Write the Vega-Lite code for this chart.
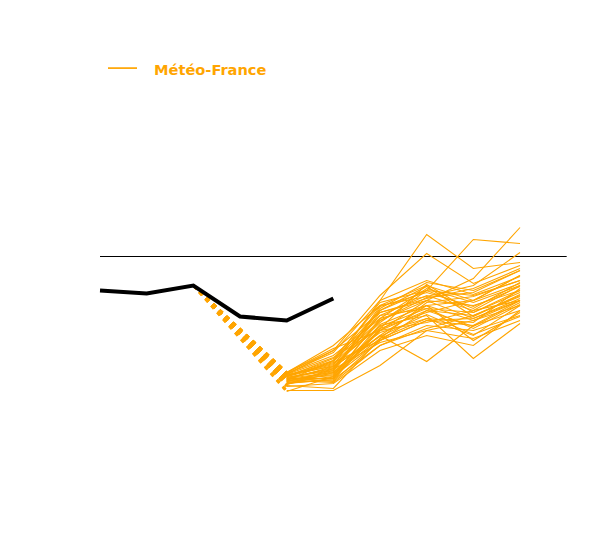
{
  "$schema": "https://vega.github.io/schema/vega-lite/v6.json",
  "width": 600,
  "height": 540,
  "padding": 0,
  "autosize": {"type": "none"},
  "datasets": {
    "obs": [
      {"s": 0, "v": -3.4}, {"s": 1, "v": -3.7}, {"s": 2, "v": -2.9},
      {"s": 3, "v": -6.0}, {"s": 4, "v": -6.4}, {"s": 5, "v": -4.2}
    ],
    "ref": [{"s0": 0, "s1": 10, "v": 0}],
    "links": [
      {"m": 1, "s0": 2, "v0": -2.9, "s1": 4, "v1": -12.0},
      {"m": 2, "s0": 2, "v0": -2.9, "s1": 4, "v1": -12.4},
      {"m": 3, "s0": 2, "v0": -2.9, "s1": 4, "v1": -12.2},
      {"m": 4, "s0": 2, "v0": -2.9, "s1": 4, "v1": -11.8},
      {"m": 5, "s0": 2, "v0": -2.9, "s1": 4, "v1": -12.8},
      {"m": 6, "s0": 2, "v0": -2.9, "s1": 4, "v1": -12.6},
      {"m": 7, "s0": 2, "v0": -2.9, "s1": 4, "v1": -13.4},
      {"m": 8, "s0": 2, "v0": -2.9, "s1": 4, "v1": -11.6},
      {"m": 9, "s0": 2, "v0": -2.9, "s1": 4, "v1": -11.9},
      {"m": 10, "s0": 2, "v0": -2.9, "s1": 4, "v1": -12.1},
      {"m": 11, "s0": 2, "v0": -2.9, "s1": 4, "v1": -12.3},
      {"m": 12, "s0": 2, "v0": -2.9, "s1": 4, "v1": -12.5},
      {"m": 13, "s0": 2, "v0": -2.9, "s1": 4, "v1": -12.7},
      {"m": 14, "s0": 2, "v0": -2.9, "s1": 4, "v1": -11.7},
      {"m": 15, "s0": 2, "v0": -2.9, "s1": 4, "v1": -12.0},
      {"m": 16, "s0": 2, "v0": -2.9, "s1": 4, "v1": -12.2},
      {"m": 17, "s0": 2, "v0": -2.9, "s1": 4, "v1": -12.4},
      {"m": 18, "s0": 2, "v0": -2.9, "s1": 4, "v1": -12.9},
      {"m": 19, "s0": 2, "v0": -2.9, "s1": 4, "v1": -11.6},
      {"m": 20, "s0": 2, "v0": -2.9, "s1": 4, "v1": -11.8},
      {"m": 21, "s0": 2, "v0": -2.9, "s1": 4, "v1": -12.3},
      {"m": 22, "s0": 2, "v0": -2.9, "s1": 4, "v1": -12.0},
      {"m": 23, "s0": 2, "v0": -2.9, "s1": 4, "v1": -12.6},
      {"m": 24, "s0": 2, "v0": -2.9, "s1": 4, "v1": -12.1},
      {"m": 25, "s0": 2, "v0": -2.9, "s1": 4, "v1": -11.9},
      {"m": 26, "s0": 2, "v0": -2.9, "s1": 4, "v1": -12.5},
      {"m": 27, "s0": 2, "v0": -2.9, "s1": 4, "v1": -13.0},
      {"m": 28, "s0": 2, "v0": -2.9, "s1": 4, "v1": -11.7},
      {"m": 29, "s0": 2, "v0": -2.9, "s1": 4, "v1": -12.2},
      {"m": 30, "s0": 2, "v0": -2.9, "s1": 4, "v1": -12.4},
      {"m": 31, "s0": 2, "v0": -2.9, "s1": 4, "v1": -12.0},
      {"m": 32, "s0": 2, "v0": -2.9, "s1": 4, "v1": -12.7},
      {"m": 33, "s0": 2, "v0": -2.9, "s1": 4, "v1": -11.8},
      {"m": 34, "s0": 2, "v0": -2.9, "s1": 4, "v1": -12.1},
      {"m": 35, "s0": 2, "v0": -2.9, "s1": 4, "v1": -12.3},
      {"m": 36, "s0": 2, "v0": -2.9, "s1": 4, "v1": -11.9},
      {"m": 37, "s0": 2, "v0": -2.9, "s1": 4, "v1": -12.5},
      {"m": 38, "s0": 2, "v0": -2.9, "s1": 4, "v1": -12.8},
      {"m": 39, "s0": 2, "v0": -2.9, "s1": 4, "v1": -11.6},
      {"m": 40, "s0": 2, "v0": -2.9, "s1": 4, "v1": -12.2},
      {"m": 41, "s0": 2, "v0": -2.9, "s1": 4, "v1": -13.5}
    ],
    "ens": [
      {"m":1,"s":4,"v":-12.0},{"m":1,"s":5,"v":-10.9},{"m":1,"s":6,"v":-4.4},{"m":1,"s":7,"v":2.2},{"m":1,"s":8,"v":-1.2},{"m":1,"s":9,"v":-0.6},
      {"m":2,"s":4,"v":-12.4},{"m":2,"s":5,"v":-10.4},{"m":2,"s":6,"v":-5.4},{"m":2,"s":7,"v":-3.4},{"m":2,"s":8,"v":1.7},{"m":2,"s":9,"v":1.3},
      {"m":3,"s":4,"v":-12.2},{"m":3,"s":5,"v":-11.6},{"m":3,"s":6,"v":-7.4},{"m":3,"s":7,"v":-4.4},{"m":3,"s":8,"v":-2.2},{"m":3,"s":9,"v":2.9},
      {"m":4,"s":4,"v":-11.8},{"m":4,"s":5,"v":-9.4},{"m":4,"s":6,"v":-3.9},{"m":4,"s":7,"v":0.3},{"m":4,"s":8,"v":-2.7},{"m":4,"s":9,"v":-0.9},
      {"m":5,"s":4,"v":-12.8},{"m":5,"s":5,"v":-11.6},{"m":5,"s":6,"v":-7.9},{"m":5,"s":7,"v":-10.5},{"m":5,"s":8,"v":-6.9},{"m":5,"s":9,"v":-4.4},
      {"m":6,"s":4,"v":-12.6},{"m":6,"s":5,"v":-12.4},{"m":6,"s":6,"v":-6.9},{"m":6,"s":7,"v":-5.9},{"m":6,"s":8,"v":-10.2},{"m":6,"s":9,"v":-6.7},
      {"m":7,"s":4,"v":-13.4},{"m":7,"s":5,"v":-13.4},{"m":7,"s":6,"v":-10.9},{"m":7,"s":7,"v":-7.4},{"m":7,"s":8,"v":-6.4},{"m":7,"s":9,"v":-4.9},
      {"m":8,"s":4,"v":-11.6},{"m":8,"s":5,"v":-8.9},{"m":8,"s":6,"v":-4.9},{"m":8,"s":7,"v":-2.9},{"m":8,"s":8,"v":-4.4},{"m":8,"s":9,"v":-1.9},
      {"m":9,"s":4,"v":-11.9},{"m":9,"s":5,"v":-10.4},{"m":9,"s":6,"v":-4.6},{"m":9,"s":7,"v":-3.4},{"m":9,"s":8,"v":-3.9},{"m":9,"s":9,"v":-2.4},
      {"m":10,"s":4,"v":-12.1},{"m":10,"s":5,"v":-11.2},{"m":10,"s":6,"v":-5.9},{"m":10,"s":7,"v":-3.9},{"m":10,"s":8,"v":-5.4},{"m":10,"s":9,"v":-2.9},
      {"m":11,"s":4,"v":-12.3},{"m":11,"s":5,"v":-11.9},{"m":11,"s":6,"v":-6.4},{"m":11,"s":7,"v":-4.4},{"m":11,"s":8,"v":-4.9},{"m":11,"s":9,"v":-3.4},
      {"m":12,"s":4,"v":-12.5},{"m":12,"s":5,"v":-11.4},{"m":12,"s":6,"v":-5.2},{"m":12,"s":7,"v":-2.6},{"m":12,"s":8,"v":-3.4},{"m":12,"s":9,"v":-1.4},
      {"m":13,"s":4,"v":-12.7},{"m":13,"s":5,"v":-12.2},{"m":13,"s":6,"v":-7.4},{"m":13,"s":7,"v":-5.4},{"m":13,"s":8,"v":-5.9},{"m":13,"s":9,"v":-3.9},
      {"m":14,"s":4,"v":-11.7},{"m":14,"s":5,"v":-9.9},{"m":14,"s":6,"v":-6.2},{"m":14,"s":7,"v":-4.9},{"m":14,"s":8,"v":-6.4},{"m":14,"s":9,"v":-4.4},
      {"m":15,"s":4,"v":-12.0},{"m":15,"s":5,"v":-10.6},{"m":15,"s":6,"v":-8.4},{"m":15,"s":7,"v":-6.4},{"m":15,"s":8,"v":-6.9},{"m":15,"s":9,"v":-5.4},
      {"m":16,"s":4,"v":-12.2},{"m":16,"s":5,"v":-12.2},{"m":16,"s":6,"v":-7.2},{"m":16,"s":7,"v":-5.6},{"m":16,"s":8,"v":-4.4},{"m":16,"s":9,"v":-1.9},
      {"m":17,"s":4,"v":-12.4},{"m":17,"s":5,"v":-12.6},{"m":17,"s":6,"v":-8.9},{"m":17,"s":7,"v":-6.9},{"m":17,"s":8,"v":-7.4},{"m":17,"s":9,"v":-5.9},
      {"m":18,"s":4,"v":-12.9},{"m":18,"s":5,"v":-13.2},{"m":18,"s":6,"v":-8.2},{"m":18,"s":7,"v":-6.2},{"m":18,"s":8,"v":-7.9},{"m":18,"s":9,"v":-4.9},
      {"m":19,"s":4,"v":-11.6},{"m":19,"s":5,"v":-9.4},{"m":19,"s":6,"v":-5.6},{"m":19,"s":7,"v":-4.2},{"m":19,"s":8,"v":-3.2},{"m":19,"s":9,"v":-1.2},
      {"m":20,"s":4,"v":-11.8},{"m":20,"s":5,"v":-11.0},{"m":20,"s":6,"v":-6.6},{"m":20,"s":7,"v":-3.4},{"m":20,"s":8,"v":-5.2},{"m":20,"s":9,"v":-2.6},
      {"m":21,"s":4,"v":-12.3},{"m":21,"s":5,"v":-11.7},{"m":21,"s":6,"v":-7.9},{"m":21,"s":7,"v":-4.9},{"m":21,"s":8,"v":-8.4},{"m":21,"s":9,"v":-5.6},
      {"m":22,"s":4,"v":-12.0},{"m":22,"s":5,"v":-10.2},{"m":22,"s":6,"v":-4.9},{"m":22,"s":7,"v":-4.0},{"m":22,"s":8,"v":-2.9},{"m":22,"s":9,"v":0.4},
      {"m":23,"s":4,"v":-12.6},{"m":23,"s":5,"v":-12.0},{"m":23,"s":6,"v":-6.2},{"m":23,"s":7,"v":-3.2},{"m":23,"s":8,"v":-4.6},{"m":23,"s":9,"v":-2.9},
      {"m":24,"s":4,"v":-12.1},{"m":24,"s":5,"v":-11.3},{"m":24,"s":6,"v":-8.6},{"m":24,"s":7,"v":-7.4},{"m":24,"s":8,"v":-8.2},{"m":24,"s":9,"v":-6.4},
      {"m":25,"s":4,"v":-11.9},{"m":25,"s":5,"v":-10.8},{"m":25,"s":6,"v":-7.0},{"m":25,"s":7,"v":-5.2},{"m":25,"s":8,"v":-5.6},{"m":25,"s":9,"v":-3.6},
      {"m":26,"s":4,"v":-12.5},{"m":26,"s":5,"v":-11.5},{"m":26,"s":6,"v":-5.6},{"m":26,"s":7,"v":-4.4},{"m":26,"s":8,"v":-6.2},{"m":26,"s":9,"v":-4.2},
      {"m":27,"s":4,"v":-13.0},{"m":27,"s":5,"v":-12.7},{"m":27,"s":6,"v":-9.4},{"m":27,"s":7,"v":-7.9},{"m":27,"s":8,"v":-8.9},{"m":27,"s":9,"v":-5.4},
      {"m":28,"s":4,"v":-11.7},{"m":28,"s":5,"v":-9.6},{"m":28,"s":6,"v":-4.4},{"m":28,"s":7,"v":-2.4},{"m":28,"s":8,"v":-3.8},{"m":28,"s":9,"v":-2.0},
      {"m":29,"s":4,"v":-12.2},{"m":29,"s":5,"v":-11.1},{"m":29,"s":6,"v":-7.6},{"m":29,"s":7,"v":-6.2},{"m":29,"s":8,"v":-6.6},{"m":29,"s":9,"v":-3.2},
      {"m":30,"s":4,"v":-12.4},{"m":30,"s":5,"v":-11.8},{"m":30,"s":6,"v":-8.2},{"m":30,"s":7,"v":-4.6},{"m":30,"s":8,"v":-4.0},{"m":30,"s":9,"v":-2.4},
      {"m":31,"s":4,"v":-12.0},{"m":31,"s":5,"v":-10.5},{"m":31,"s":6,"v":-5.9},{"m":31,"s":7,"v":-5.2},{"m":31,"s":8,"v":-7.2},{"m":31,"s":9,"v":-4.8},
      {"m":32,"s":4,"v":-12.7},{"m":32,"s":5,"v":-12.3},{"m":32,"s":6,"v":-8.9},{"m":32,"s":7,"v":-7.2},{"m":32,"s":8,"v":-5.9},{"m":32,"s":9,"v":-4.0},
      {"m":33,"s":4,"v":-11.8},{"m":33,"s":5,"v":-10.1},{"m":33,"s":6,"v":-7.2},{"m":33,"s":7,"v":-2.8},{"m":33,"s":8,"v":-5.6},{"m":33,"s":9,"v":-3.4},
      {"m":34,"s":4,"v":-12.1},{"m":34,"s":5,"v":-11.4},{"m":34,"s":6,"v":-5.0},{"m":34,"s":7,"v":-3.6},{"m":34,"s":8,"v":-5.0},{"m":34,"s":9,"v":-3.0},
      {"m":35,"s":4,"v":-12.3},{"m":35,"s":5,"v":-11.0},{"m":35,"s":6,"v":-8.0},{"m":35,"s":7,"v":-5.8},{"m":35,"s":8,"v":-7.8},{"m":35,"s":9,"v":-6.0},
      {"m":36,"s":4,"v":-11.9},{"m":36,"s":5,"v":-10.7},{"m":36,"s":6,"v":-6.4},{"m":36,"s":7,"v":-4.1},{"m":36,"s":8,"v":-3.6},{"m":36,"s":9,"v":-1.4},
      {"m":37,"s":4,"v":-12.5},{"m":37,"s":5,"v":-12.1},{"m":37,"s":6,"v":-6.8},{"m":37,"s":7,"v":-4.9},{"m":37,"s":8,"v":-4.4},{"m":37,"s":9,"v":-2.7},
      {"m":38,"s":4,"v":-12.8},{"m":38,"s":5,"v":-11.2},{"m":38,"s":6,"v":-5.4},{"m":38,"s":7,"v":-3.0},{"m":38,"s":8,"v":-6.0},{"m":38,"s":9,"v":-3.8},
      {"m":39,"s":4,"v":-11.6},{"m":39,"s":5,"v":-9.2},{"m":39,"s":6,"v":-7.4},{"m":39,"s":7,"v":-6.6},{"m":39,"s":8,"v":-5.4},{"m":39,"s":9,"v":-4.4},
      {"m":40,"s":4,"v":-12.2},{"m":40,"s":5,"v":-12.5},{"m":40,"s":6,"v":-8.4},{"m":40,"s":7,"v":-5.4},{"m":40,"s":8,"v":-7.0},{"m":40,"s":9,"v":-4.6},
      {"m":41,"s":4,"v":-13.5},{"m":41,"s":5,"v":-12.0},{"m":41,"s":6,"v":-8.4},{"m":41,"s":7,"v":-6.4},{"m":41,"s":8,"v":-6.2},{"m":41,"s":9,"v":-4.4}
    ]
  },
  "layer": [
    {
      "data": {"name": "ref"},
      "mark": {"type": "rule", "color": "black", "strokeWidth": 1},
      "encoding": {
        "x": {"field": "s0", "type": "quantitative", "scale": {"domain": [-2.143, 10.714], "nice": false, "zero": false}, "axis": null},
        "x2": {"field": "s1"},
        "y": {"field": "v", "type": "quantitative", "scale": {"domain": [-28.35, 25.65], "nice": false, "zero": false}, "axis": null}
      }
    },
    {
      "data": {"name": "links"},
      "mark": {"type": "rule", "color": "#FFA500", "strokeWidth": 2.5, "strokeDash": [4, 5]},
      "encoding": {
        "x": {"field": "s0", "type": "quantitative", "scale": {"domain": [-2.143, 10.714], "nice": false, "zero": false}, "axis": null},
        "x2": {"field": "s1"},
        "y": {"field": "v0", "type": "quantitative", "scale": {"domain": [-28.35, 25.65], "nice": false, "zero": false}, "axis": null},
        "y2": {"field": "v1"}
      }
    },
    {
      "data": {"name": "ens"},
      "mark": {"type": "line", "strokeWidth": 1.1},
      "encoding": {
        "x": {"field": "s", "type": "quantitative", "scale": {"domain": [-2.143, 10.714], "nice": false, "zero": false}, "axis": null},
        "y": {"field": "v", "type": "quantitative", "scale": {"domain": [-28.35, 25.65], "nice": false, "zero": false}, "axis": null},
        "detail": {"field": "m", "type": "nominal"},
        "color": {
          "datum": "Météo-France",
          "type": "nominal",
          "scale": {"range": ["#FFA500"]},
          "legend": {
            "title": null,
            "orient": "none",
            "legendX": 107,
            "legendY": 55.5,
            "symbolType": "M-1,-0.2H1",
            "symbolSize": 841,
            "symbolStrokeWidth": 1.7,
            "labelOffset": 16,
            "labelFont": "DejaVu Sans",
            "labelFontSize": 14.6,
            "labelFontWeight": "bold",
            "labelColor": "#FFA500",
            "padding": 0
          }
        }
      }
    },
    {
      "data": {"name": "obs"},
      "mark": {"type": "line", "color": "black", "strokeWidth": 4},
      "encoding": {
        "x": {"field": "s", "type": "quantitative", "scale": {"domain": [-2.143, 10.714], "nice": false, "zero": false}, "axis": null},
        "y": {"field": "v", "type": "quantitative", "scale": {"domain": [-28.35, 25.65], "nice": false, "zero": false}, "axis": null}
      }
    }
  ],
  "config": {"view": {"stroke": null}}
}
